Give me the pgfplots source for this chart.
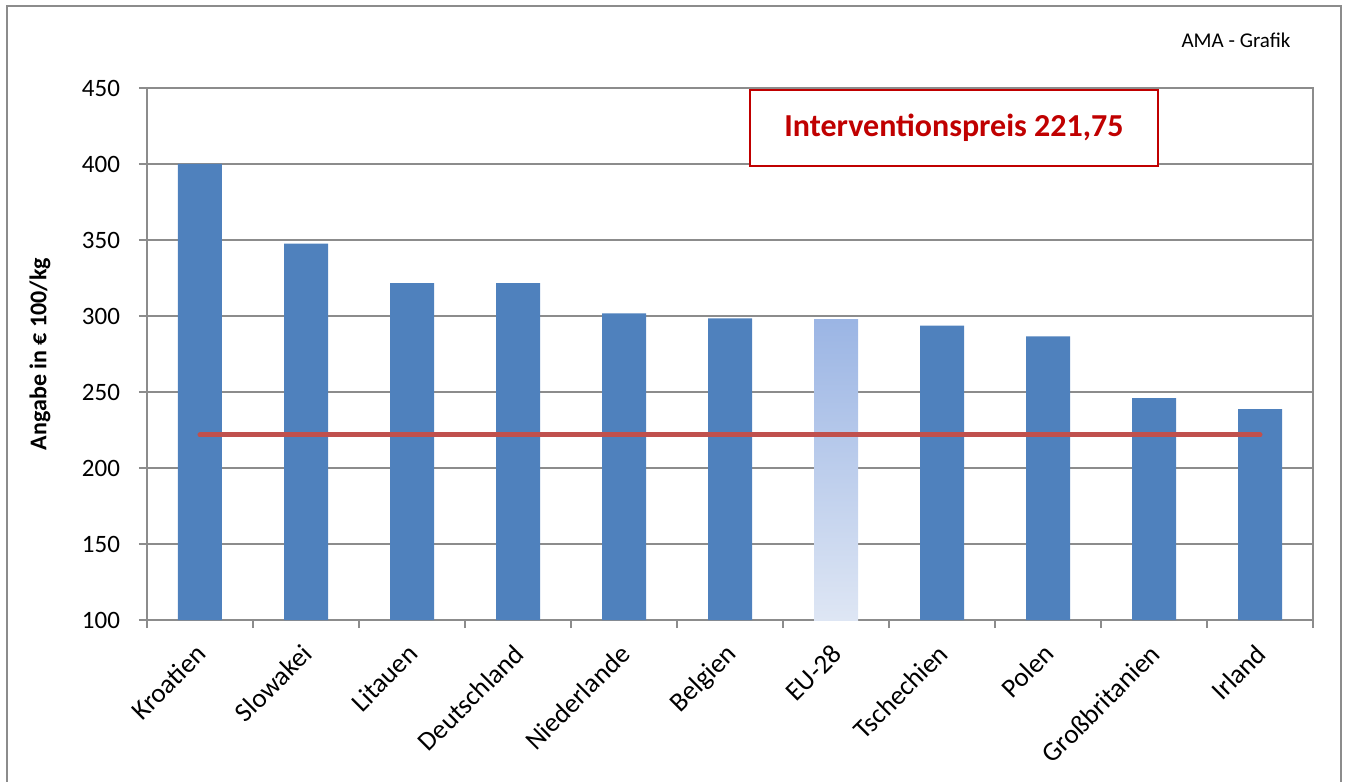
\documentclass[border=0pt]{standalone}
\usepackage{pgfplots}
\pgfplotsset{compat=1.18}
\usepackage{fontspec}
\setmainfont{Carlito}
\definecolor{barblue}{HTML}{4F81BD}
\definecolor{eutop}{HTML}{9BB5E4}
\definecolor{eubot}{HTML}{DEE6F4}
\definecolor{redline}{HTML}{C0504D}
\definecolor{boxred}{HTML}{C00000}
\definecolor{axisgray}{HTML}{8C8C8C}
\definecolor{framegray}{HTML}{8C8C8C}
\begin{document}
\begin{tikzpicture}
\begin{axis}[
  name=ax,
  scale only axis, width=583pt, height=266pt,
  xmin=-0.5, xmax=10.5, ymin=100, ymax=450,
  ytick={100,150,...,450},
  xtick={0,...,10},
  xticklabels={Kroatien,Slowakei,Litauen,Deutschland,Niederlande,Belgien,EU-28,Tschechien,Polen,Großbritanien,Irland},
  minor xtick={-0.5,0.5,...,10.5},
  major x tick style={draw=none},
  tick align=outside, xtick pos=bottom, ytick pos=left,
  major tick length=4pt, minor tick length=4pt,
  axis line style={axisgray, line width=0.8pt},
  every tick/.style={axisgray, line width=0.8pt},
  ymajorgrids, grid style={axisgray, line width=0.8pt},
  /pgf/number format/assume math mode=true,
  yticklabel style={font=\fontsize{12.5}{14}\selectfont, xshift=-6pt},
  xticklabel style={font=\fontsize{13.5}{15}\selectfont, rotate=45, anchor=north east, inner sep=2pt, xshift=-5pt, yshift=-1pt},
  ylabel={Angabe in € 100/kg},
  ylabel style={font=\bfseries\fontsize{12}{14}\selectfont, at={(axis description cs:-0.0918,0.5)}, anchor=center},
  clip=true,
]
\addplot[ybar, bar shift=0pt, bar width=22pt, fill=barblue, draw=none] coordinates {
  (0,400) (1,347.6) (2,321.6) (3,321.6) (4,301.8) (5,298.5)
  (7,293.6) (8,286.6) (9,245.9) (10,238.7)};
\addplot[draw=none, top color=eutop, bottom color=eubot] coordinates {
  (5.7925,100) (5.7925,297.4) (6.2075,297.4) (6.2075,100)} -- cycle;
\addplot[redline, line width=2.5pt, line cap=round] coordinates {(0,221.75) (10,221.75)};
\node[draw=boxred, fill=white, line width=0.8pt, text=boxred, font=\bfseries\fontsize{16}{18}\selectfont,
  minimum width=204pt, minimum height=38pt, inner sep=0pt] at (axis cs:7.113,423.7) {Interventionspreis 221,75};
\end{axis}
\path[use as bounding box] ([xshift=-73.5pt,yshift=-80.5pt]ax.south west) rectangle ([xshift=16.5pt,yshift=44pt]ax.north east);
\draw[framegray, line width=1pt] ([xshift=-70pt,yshift=-82pt]ax.south west) rectangle ([xshift=14pt,yshift=41pt]ax.north east);
\node[font=\fontsize{10.5}{12}\selectfont] at ([xshift=-38.5pt,yshift=24pt]ax.north east) {AMA - Grafik};
\end{tikzpicture}
\end{document}
